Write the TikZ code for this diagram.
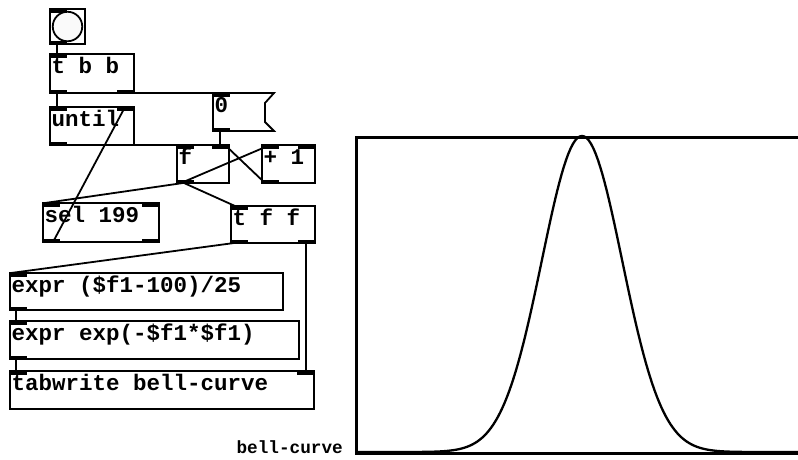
\documentclass[tikz,border=0pt]{standalone}
\usepackage{fontspec}
\newfontfamily\pdmono{Liberation Mono}
\usetikzlibrary{calc}
\tikzset{
  objbox/.style={draw, line width=1.8pt, inner sep=0pt, outer sep=0pt},
  objtxt/.style={anchor=base west, inner sep=0pt, font=\pdmono\bfseries\fontsize{22.5}{24}\selectfont},
  conn/.style={line width=1.8pt},
  iolet/.style={fill=black},
}
\newcommand{\pdobj}[6]{%
  \node[objbox, minimum width=#4pt, minimum height=#5pt, anchor=north west] (#1) at (#2,#3) {};
  \node[objtxt] (#1-t) at ($(#1.north west)+(1.5,19.5)$) {#6};
}
\newcommand{\inl}[1]{\fill[iolet] (#1.north west) rectangle ++(17,3.5);}
\newcommand{\inr}[1]{\fill[iolet] (#1.north east) rectangle ++(-17,3.5);}
\newcommand{\outl}[1]{\fill[iolet] (#1.south west) rectangle ++(17,-3.5);}
\newcommand{\outr}[1]{\fill[iolet] (#1.south east) rectangle ++(-17,-3.5);}
\begin{document}
\begin{tikzpicture}[x=1pt,y=-1pt]
\useasboundingbox (0,0) rectangle (798,459);
\clip (0,0) rectangle (798,459);
% bang
\node[objbox, line width=2pt, minimum width=35pt, minimum height=35pt, anchor=north west] (bng) at (50,9) {};
\node[circle, draw, line width=1.8pt, minimum size=29.5pt, inner sep=0pt, fill=white!98!black] (bngc) at (bng.center) {};
% objects
\pdobj{tbb}{50}{54}{84}{39}{t b b}
\pdobj{until}{50}{107}{84}{38}{until}
\node[inner sep=0pt, outer sep=0pt, minimum width=61pt, minimum height=38pt, anchor=north west] (msg) at (213,93) {};
\draw[line width=1.8pt] (msg.north west) -- (msg.north east) -- ++(-9,10) -- ++(0,19) -- (msg.south east) -- (msg.south west) -- cycle;
\node[objtxt] (msg-t) at ($(msg.north west)+(1.5,19.5)$) {0};
\pdobj{f}{177}{145}{52}{38}{f}
\pdobj{plus}{262}{145}{53}{38}{+ 1}
\pdobj{sel}{43}{203}{116}{39}{sel 199}
\pdobj{tff}{231}{206}{84}{37}{t f f}
\pdobj{ea}{10}{273}{273}{37}{expr (\$f1-100)/25}
\pdobj{eb}{10}{321}{289}{38}{expr exp(-\$f1*\$f1)}
\pdobj{tab}{10}{371}{304}{38}{tabwrite bell-curve}
% connections
\draw[conn] ($(bng.south west)+(7,0)$) -- ($(tbb.north west)+(7,0)$);
\draw[conn] ($(tbb.south west)+(7,0)$) -- ($(until.north west)+(7,0)$);
\draw[conn] ($(tbb.south east)+(-8,0)$) -- ($(msg.north west)+(7,0)$);
\draw[conn] ($(until.south west)+(7,0)$) -- ($(f.north west)+(7,0)$);
\draw[conn] ($(msg.south west)+(7,0)$) -- ($(f.north east)+(-9,0)$);
\draw[conn] ($(f.south west)+(4,0)$) -- ($(plus.north west)+(8,0)$);
\draw[conn] ($(plus.south west)+(3,0)$) -- ($(f.north east)+(-4,0)$);
\draw[conn] ($(f.south west)+(6,0)$) -- ($(sel.north west)+(2,0)$);
\draw[conn] ($(f.south west)+(7,0)$) -- ($(tff.north west)+(4,0)$);
\draw[conn] ($(sel.south west)+(10,0)$) -- ($(until.north east)+(-9,0)$);
\draw[conn] ($(tff.south west)+(3,0)$) -- ($(ea.north west)+(1,0)$);
\draw[conn] ($(tff.south east)+(-9,0)$) -- ($(tab.north east)+(-8,0)$);
\draw[conn] ($(ea.south west)+(6,0)$) -- ($(eb.north west)+(6,0)$);
\draw[conn] ($(eb.south west)+(6,0)$) -- ($(tab.north west)+(6,0)$);
% inlets / outlets
\inl{bng}\outl{bng}
\inl{tbb}\outl{tbb}\outr{tbb}
\inl{until}\inr{until}\outl{until}
\inl{msg}\outl{msg}
\inl{f}\inr{f}\outl{f}
\inl{plus}\inr{plus}\outl{plus}
\inl{sel}\inr{sel}\outl{sel}\outr{sel}
\inl{tff}\outl{tff}\outr{tff}
\inl{ea}\outl{ea}
\inl{eb}\outl{eb}
\inl{tab}\inr{tab}
% graph
\node[draw, line width=2.6pt, inner sep=0pt, minimum width=454pt, minimum height=316pt, anchor=north west] (graph) at (355,136) {};
\node[anchor=base east, inner sep=0pt, font=\pdmono\bfseries\fontsize{17.7}{20}\selectfont] (glabel) at (343,453) {bell-curve};
\draw[line width=2.3pt, line join=round] plot[domain=0:199, samples=200] ({355+\x*2.27}, {452-316*exp(-(((\x-100)/25)*((\x-100)/25)))});
\end{tikzpicture}
\end{document}
